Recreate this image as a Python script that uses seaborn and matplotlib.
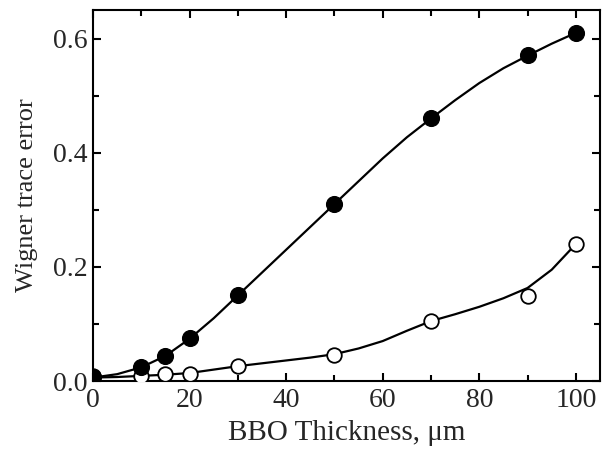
import matplotlib
matplotlib.use("Agg")
import matplotlib.pyplot as plt
import pandas as pd
import seaborn as sns
from matplotlib.ticker import MultipleLocator

# measured points
thickness = [0, 10, 15, 20, 30, 50, 70, 90, 100]
filled_err = [0.007, 0.024, 0.043, 0.075, 0.150, 0.310, 0.461, 0.571, 0.610]
open_err = [0.008, 0.009, 0.012, 0.012, 0.027, 0.046, 0.106, 0.149, 0.240]

# smooth guide curves
curve_x = [0, 5, 10, 15, 20, 25, 30, 35, 40, 45, 50, 55, 60, 65, 70, 75, 80, 85, 90, 95, 100]
filled_curve = [0.006, 0.012, 0.024, 0.044, 0.074, 0.110, 0.150, 0.190, 0.230, 0.270, 0.310,
                0.350, 0.390, 0.427, 0.460, 0.492, 0.522, 0.548, 0.570, 0.591, 0.610]
open_curve = [0.006, 0.007, 0.009, 0.011, 0.014, 0.020, 0.026, 0.031, 0.036, 0.041, 0.047,
              0.057, 0.070, 0.088, 0.105, 0.117, 0.130, 0.145, 0.163, 0.195, 0.240]

sns.set_style("ticks")
plt.rcParams["font.family"] = ["Liberation Serif", "DejaVu Serif"]

pts = pd.DataFrame({"x": thickness, "filled": filled_err, "open": open_err})
crv = pd.DataFrame({"x": curve_x, "filled": filled_curve, "open": open_curve})

fig = plt.figure(figsize=(6.1, 4.51), dpi=100)
ax = fig.add_axes([0.1525, 0.1552, 0.8311, 0.8226])

sns.lineplot(data=crv, x="x", y="filled", color="black", linewidth=1.6, ax=ax)
sns.lineplot(data=crv, x="x", y="open", color="black", linewidth=1.6, ax=ax)
sns.scatterplot(data=pts, x="x", y="open", color="white", edgecolor="black",
                linewidth=1.3, s=110, zorder=3, ax=ax)
sns.scatterplot(data=pts, x="x", y="filled", color="black", edgecolor="black",
                s=130, zorder=4, ax=ax)

ax.set_xlim(0, 105)
ax.set_ylim(0, 0.65)
ax.xaxis.set_major_locator(MultipleLocator(20))
ax.xaxis.set_minor_locator(MultipleLocator(10))
ax.yaxis.set_major_locator(MultipleLocator(0.2))
ax.yaxis.set_minor_locator(MultipleLocator(0.1))
ax.yaxis.set_major_formatter(plt.FormatStrFormatter("%.1f"))

for s in ax.spines.values():
    s.set_linewidth(1.5)
    s.set_color("black")
ax.tick_params(which="both", direction="in", top=True, right=True, width=1.5,
               color="black", labelsize=20)
ax.tick_params(axis="x", pad=5)
ax.tick_params(axis="y", pad=4)
ax.tick_params(which="major", length=6)
ax.tick_params(which="minor", length=4)

ax.set_xlabel("BBO Thickness, μm", fontsize=21, labelpad=5)
ax.set_ylabel("Wigner trace error", fontsize=19, labelpad=11)

fig.savefig("out.png", dpi=100)
